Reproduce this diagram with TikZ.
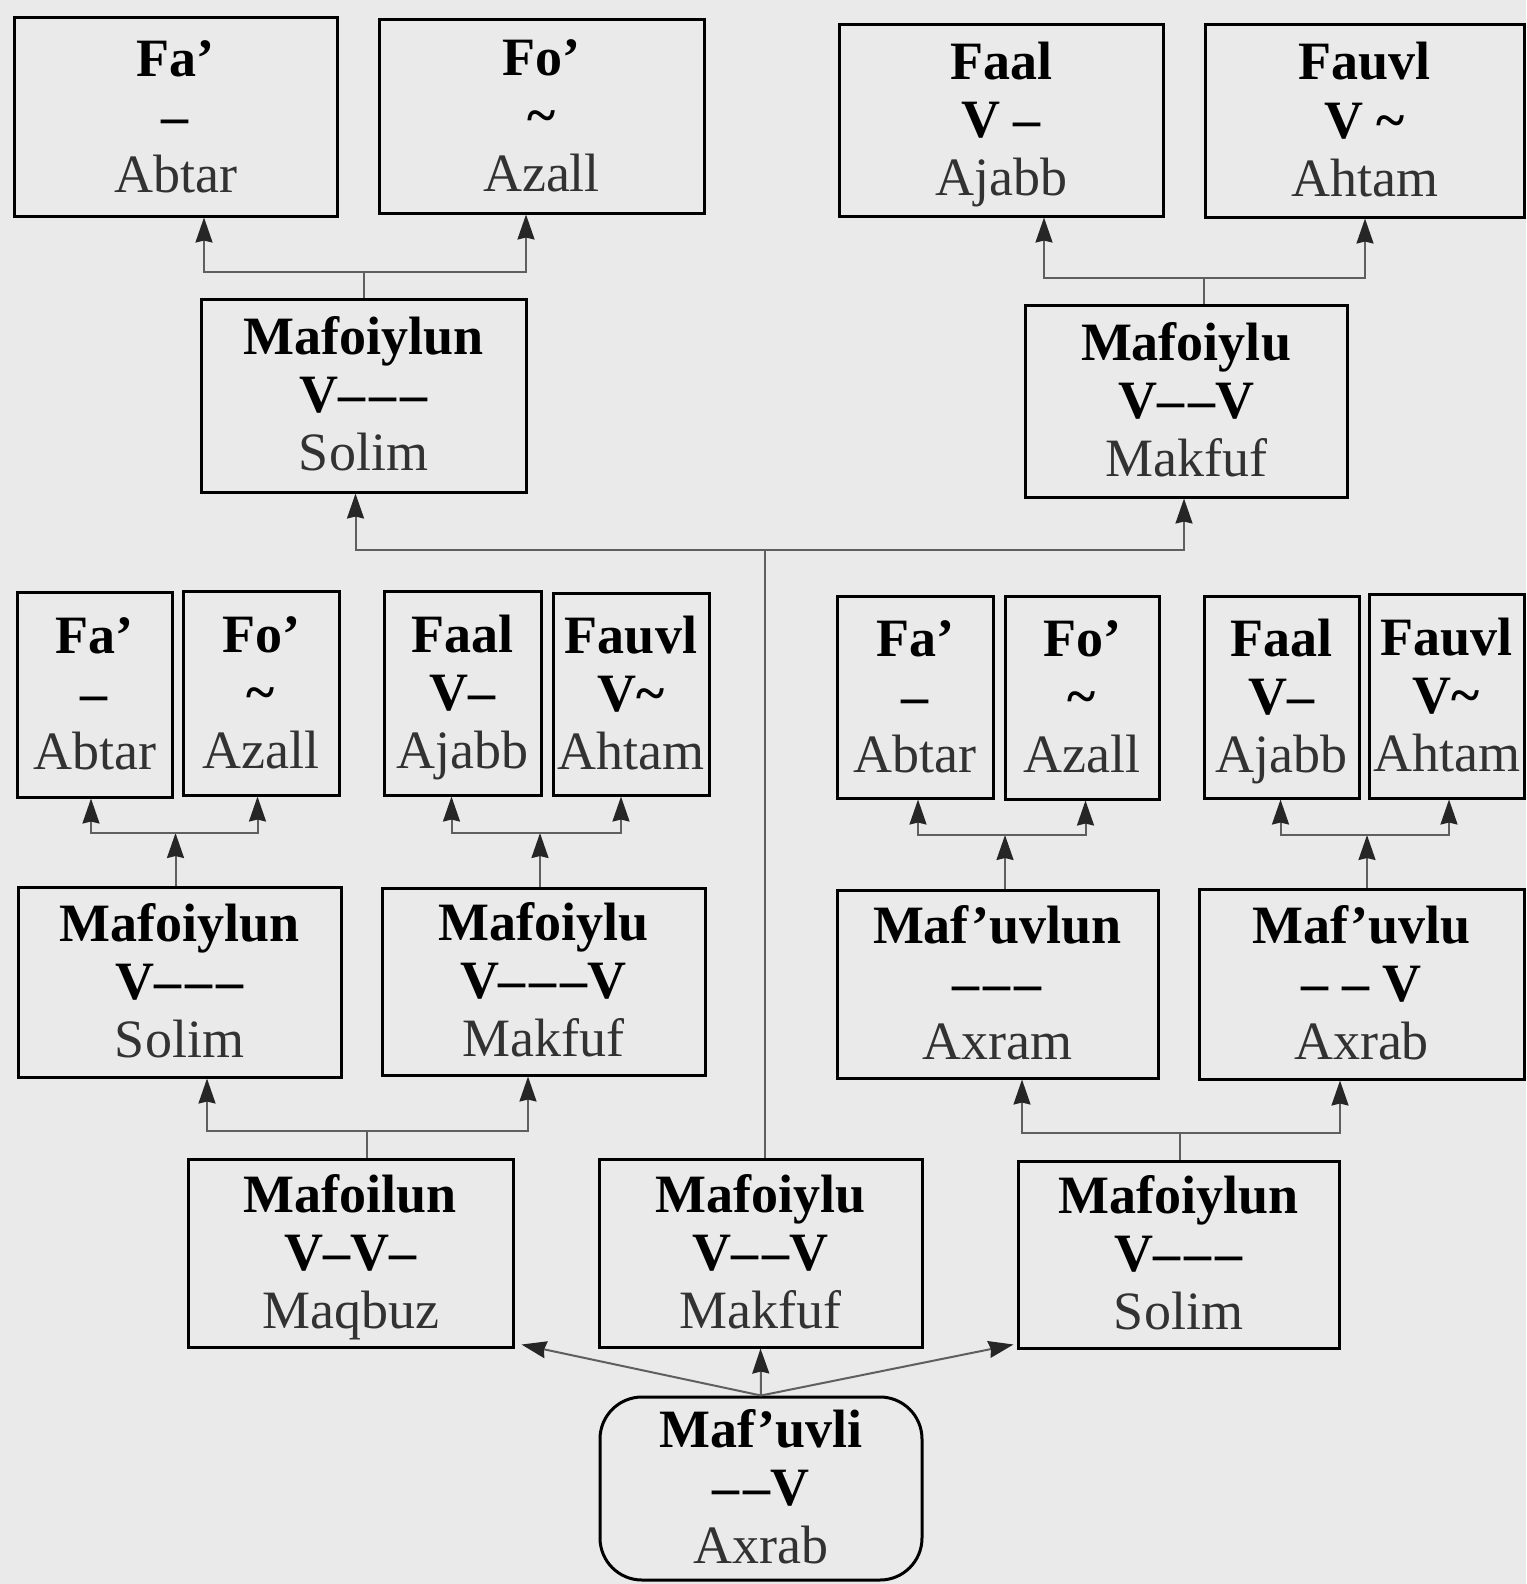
\documentclass[tikz,border=0pt]{standalone}
\usepackage{fontspec}
\setmainfont{Liberation Serif}
\usetikzlibrary{arrows.meta}
\definecolor{bg}{RGB}{234,234,234}
\definecolor{txtgray}{RGB}{50,50,50}
\definecolor{linegray}{RGB}{95,95,95}
\newcommand\lst{\rule{0pt}{46pt}\rule[-12pt]{0pt}{12pt}}
\newcommand\dd{\kern4pt}
\newcommand\boxtxt[3]{\lst\textbf{#1}\\\lst\textbf{#2}\\\lst{\color{txtgray}#3}}
\begin{document}
\begin{tikzpicture}[x=1pt,y=-1pt,
  box/.style={draw=black, line width=3pt, inner sep=0pt, align=center,
    font=\fontsize{54}{58}\selectfont, text=black},
  conn/.style={draw=linegray, line width=2pt},
  arr/.style={conn, -{Triangle[length=25pt,width=17pt,inset=2pt,color=black!85]}},
]
\fill[bg] (0,0) rectangle (1526,1584);
\useasboundingbox (0,0) rectangle (1526,1584);

% top row
\node[box, minimum width=323pt, minimum height=198pt] (tA) at (175.5,117) {\boxtxt{Fa’}{–}{Abtar}};
\node[box, minimum width=325pt, minimum height=193pt] (tB) at (541.5,116.5) {\boxtxt{Fo’}{\textasciitilde}{Azall}};
\node[box, minimum width=324pt, minimum height=191pt] (tC) at (1001,120.5) {\boxtxt{Faal}{V –}{Ajabb}};
\node[box, minimum width=319pt, minimum height=192pt] (tD) at (1364.5,121) {\boxtxt{Fauvl}{V \textasciitilde}{Ahtam}};
\node[box, minimum width=325pt, minimum height=193pt] (tL) at (363.5,395.5) {\boxtxt{Mafoiylun}{V–\dd–\dd–}{Solim}};
\node[box, minimum width=322pt, minimum height=192pt] (tR) at (1186,401) {\boxtxt{Mafoiylu}{V–\dd–V}{Makfuf}};

% middle small boxes
\node[box, minimum width=155pt, minimum height=205pt] (mA) at (94.5,694.5) {\boxtxt{Fa’}{–}{Abtar}};
\node[box, minimum width=156pt, minimum height=204pt] (mB) at (261,693) {\boxtxt{Fo’}{\textasciitilde}{Azall}};
\node[box, minimum width=157pt, minimum height=204pt] (mC) at (462.5,693) {\boxtxt{Faal}{V–}{Ajabb}};
\node[box, minimum width=156pt, minimum height=202pt] (mD) at (631,694) {\boxtxt{Fauvl}{V\textasciitilde}{Ahtam}};
\node[box, minimum width=156pt, minimum height=202pt] (mE) at (915,697) {\boxtxt{Fa’}{–}{Abtar}};
\node[box, minimum width=154pt, minimum height=203pt] (mF) at (1082,697.5) {\boxtxt{Fo’}{\textasciitilde}{Azall}};
\node[box, minimum width=155pt, minimum height=202pt] (mG) at (1281.5,697) {\boxtxt{Faal}{V–}{Ajabb}};
\node[box, minimum width=155pt, minimum height=204pt] (mH) at (1446.5,696) {\boxtxt{Fauvl}{V\textasciitilde}{Ahtam}};

% middle big boxes
\node[box, minimum width=323pt, minimum height=190pt] (nA) at (179.5,982) {\boxtxt{Mafoiylun}{V–\dd–\dd–}{Solim}};
\node[box, minimum width=323pt, minimum height=187pt] (nB) at (543.5,981.5) {\boxtxt{Mafoiylu}{V–\dd–\dd–V}{Makfuf}};
\node[box, minimum width=321pt, minimum height=188pt] (nC) at (997.5,984) {\boxtxt{Maf’uvlun}{–\dd–\dd–}{Axram}};
\node[box, minimum width=325pt, minimum height=190pt] (nD) at (1361.5,984) {\boxtxt{Maf’uvlu}{– – V}{Axrab}};

% bottom row
\node[box, minimum width=325pt, minimum height=188pt] (bA) at (350.5,1253) {\boxtxt{Mafoilun}{V–V–}{Maqbuz}};
\node[box, minimum width=323pt, minimum height=188pt] (bB) at (760.5,1253) {\boxtxt{Mafoiylu}{V–\dd–V}{Makfuf}};
\node[box, minimum width=321pt, minimum height=187pt] (bC) at (1178.5,1254.5) {\boxtxt{Mafoiylun}{V–\dd–\dd–}{Solim}};

% root
\node[box, rounded corners=42pt, minimum width=322pt, minimum height=183pt] (root) at (761,1488.5) {\boxtxt{Maf’uvli}{–\dd–V}{Axrab}};

% connectors top-left
\coordinate (jTL) at (363.5,272);
\draw[conn] (tL.north) -- (jTL);
\draw[arr] (jTL) -| ([xshift=28.5pt]tA.south);
\draw[arr] (jTL) -| ([xshift=-15.5pt]tB.south);
% top-right
\coordinate (jTR) at (1204,278);
\draw[conn] ([xshift=18pt]tR.north) -- (jTR);
\draw[arr] (jTR) -| ([xshift=43pt]tC.south);
\draw[arr] (jTR) -| ([xshift=0.5pt]tD.south);
% central
\coordinate (jC) at (764.5,550);
\draw[conn] ([xshift=4pt]bB.north) -- (jC);
\draw[arr] (jC) -| ([xshift=-8pt]tL.south);
\draw[arr] (jC) -| ([xshift=-2pt]tR.south);
% middle
\coordinate (jA) at (175.5,833);
\draw[arr] ([xshift=-4pt]nA.north) -- (jA);
\draw[arr] (jA) -| ([xshift=-3.5pt]mA.south);
\draw[arr] (jA) -| ([xshift=-3.5pt]mB.south);
\coordinate (jB) at (540,833);
\draw[arr] ([xshift=-3.5pt]nB.north) -- (jB);
\draw[arr] (jB) -| ([xshift=-11pt]mC.south);
\draw[arr] (jB) -| ([xshift=-10pt]mD.south);
\coordinate (jCc) at (1005,835);
\draw[arr] ([xshift=7.5pt]nC.north) -- (jCc);
\draw[arr] (jCc) -| ([xshift=3pt]mE.south);
\draw[arr] (jCc) -| ([xshift=3.5pt]mF.south);
\coordinate (jD) at (1367,835);
\draw[arr] ([xshift=5.5pt]nD.north) -- (jD);
\draw[arr] (jD) -| ([xshift=-1pt]mG.south);
\draw[arr] (jD) -| ([xshift=2.5pt]mH.south);
% bottom
\coordinate (jBA) at (366.5,1131);
\draw[conn] ([xshift=16pt]bA.north) -- (jBA);
\draw[arr] (jBA) -| ([xshift=27.5pt]nA.south);
\draw[arr] (jBA) -| ([xshift=-15.5pt]nB.south);
\coordinate (jBC) at (1179.5,1133);
\draw[conn] ([xshift=1pt]bC.north) -- (jBC);
\draw[arr] (jBC) -| ([xshift=24.5pt]nC.south);
\draw[arr] (jBC) -| ([xshift=-21.5pt]nD.south);
% root
\draw[arr] (root.north) -- ([xshift=7pt,yshift=4pt]bA.south east);
\draw[arr] (root.north) -- (bB.south);
\draw[arr] (root.north) -- ([xshift=-3pt,yshift=5pt]bC.south west);
\end{tikzpicture}
\end{document}
